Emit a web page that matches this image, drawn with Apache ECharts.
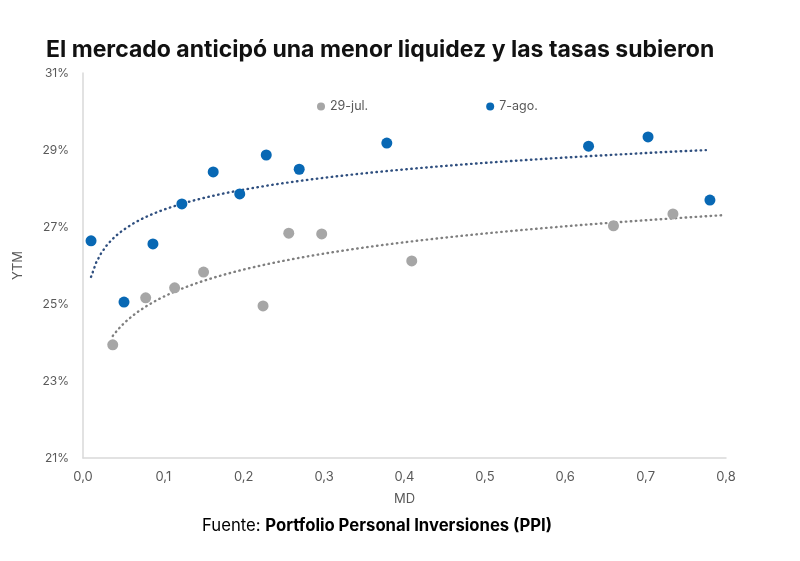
<!DOCTYPE html>
<html>
<head>
<meta charset="utf-8">
<script src="https://cdn.jsdelivr.net/npm/echarts@6/dist/echarts.min.js"></script>
<style>
html,body{margin:0;padding:0;background:#fff;}
#main{width:800px;height:561px;}
</style>
</head>
<body>
<div id="main"></div>
<script>
// 29-jul. (gris)
var julMD=[0.037,0.078,0.114,0.150,0.224,0.256,0.297,0.409,0.660,0.734];
var julYTM=[23.94,25.16,25.42,25.83,24.95,26.84,26.82,26.12,27.03,27.34];
// 7-ago. (azul)
var agoMD=[0.010,0.051,0.087,0.123,0.162,0.195,0.228,0.269,0.378,0.629,0.703,0.780];
var agoYTM=[26.64,25.05,26.56,27.60,28.43,27.86,28.87,28.50,29.18,29.10,29.34,27.70];
// extremo derecho de cada linea de tendencia
var julTrendEnd=0.797;
var agoTrendEnd=0.775;

function pairs(xs,ys){
    var out=[];
    for(var i=0;i<xs.length;i++){out.push([xs[i],ys[i]]);}
    return out;
}

// tendencia logaritmica (minimos cuadrados de y sobre ln x), como la de Excel
function logTrend(xs,ys,xEnd){
    var n=xs.length,sl=0,sy=0;
    for(var i=0;i<n;i++){sl+=Math.log(xs[i]);sy+=ys[i];}
    var ml=sl/n,my=sy/n,num=0,den=0;
    for(var j=0;j<n;j++){
        var d=Math.log(xs[j])-ml;
        num+=d*(ys[j]-my);
        den+=d*d;
    }
    var b=num/den,a=my-b*ml;
    var x0=Math.min.apply(null,xs),out=[];
    for(var k=0;k<=120;k++){
        var x=x0+(xEnd-x0)*k/120;
        out.push([x,a+b*Math.log(x)]);
    }
    return out;
}

var myChart=echarts.init(document.getElementById('main'));
var option={
    backgroundColor:'#fff',
    textStyle:{fontFamily:'Inter'},
    title:{
        text:'El mercado anticipó una menor liquidez y las tasas subieron',
        left:41,
        top:34,
        textStyle:{fontSize:23,fontWeight:'bold',color:'#111',fontFamily:'Inter'}
    },
    legend:{
        top:95,
        left:312,
        itemGap:118,
        itemWidth:8,
        itemHeight:8,
        textStyle:{color:'#595959',fontSize:12.5},
        data:[{name:'29-jul.',icon:'circle'},{name:'7-ago.',icon:'circle'}]
    },
    grid:{left:83,right:74,top:73,bottom:103},
    xAxis:{
        type:'value',
        min:0,
        max:0.8,
        interval:0.1,
        name:'MD',
        nameLocation:'middle',
        nameGap:35,
        nameTextStyle:{color:'#595959',fontSize:13},
        axisLine:{lineStyle:{color:'#d9d9d9',width:1.5}},
        axisTick:{show:false},
        splitLine:{show:false},
        axisLabel:{
            color:'#595959',
            fontSize:13,
            margin:13,
            formatter:function(v){return v.toFixed(1).replace('.',',');}
        }
    },
    yAxis:{
        type:'value',
        min:21,
        max:31,
        interval:2,
        name:'YTM',
        nameLocation:'middle',
        nameGap:58,
        nameTextStyle:{color:'#595959',fontSize:13},
        axisLine:{show:true,lineStyle:{color:'#d9d9d9',width:1.5}},
        axisTick:{show:false},
        splitLine:{show:false},
        axisLabel:{
            color:'#595959',
            fontSize:12,
            margin:14,
            formatter:function(v){return v+'%';}
        }
    },
    series:[{
        name:'29-jul.',
        type:'scatter',
        symbolSize:11,
        itemStyle:{color:'#a6a6a6',opacity:1},
        data:pairs(julMD,julYTM),
        z:3
    },{
        name:'7-ago.',
        type:'scatter',
        symbolSize:11,
        itemStyle:{color:'#0868b4',opacity:1},
        data:pairs(agoMD,agoYTM),
        z:3
    },{
        name:'tendencia 29-jul.',
        type:'line',
        showSymbol:false,
        silent:true,
        lineStyle:{color:'#7f7f7f',width:2.4,type:[0.5,4.5],cap:'round'},
        data:logTrend(julMD,julYTM,julTrendEnd),
        z:2
    },{
        name:'tendencia 7-ago.',
        type:'line',
        showSymbol:false,
        silent:true,
        lineStyle:{color:'#2f4f7f',width:2.4,type:[0.5,4.5],cap:'round'},
        data:logTrend(agoMD,agoYTM,agoTrendEnd),
        z:2
    }],
    graphic:[{
        type:'text',
        left:202,
        top:517,
        style:{
            text:'{n|Fuente: }{b|Portfolio Personal Inversiones (PPI)}',
            rich:{
                n:{fontSize:16.7,color:'#222',fontFamily:'Inter'},
                b:{fontSize:16.7,fontWeight:'bold',color:'#111',fontFamily:'Inter'}
            }
        }
    }]
};
myChart.setOption(option);
</script>
</body>
</html>
